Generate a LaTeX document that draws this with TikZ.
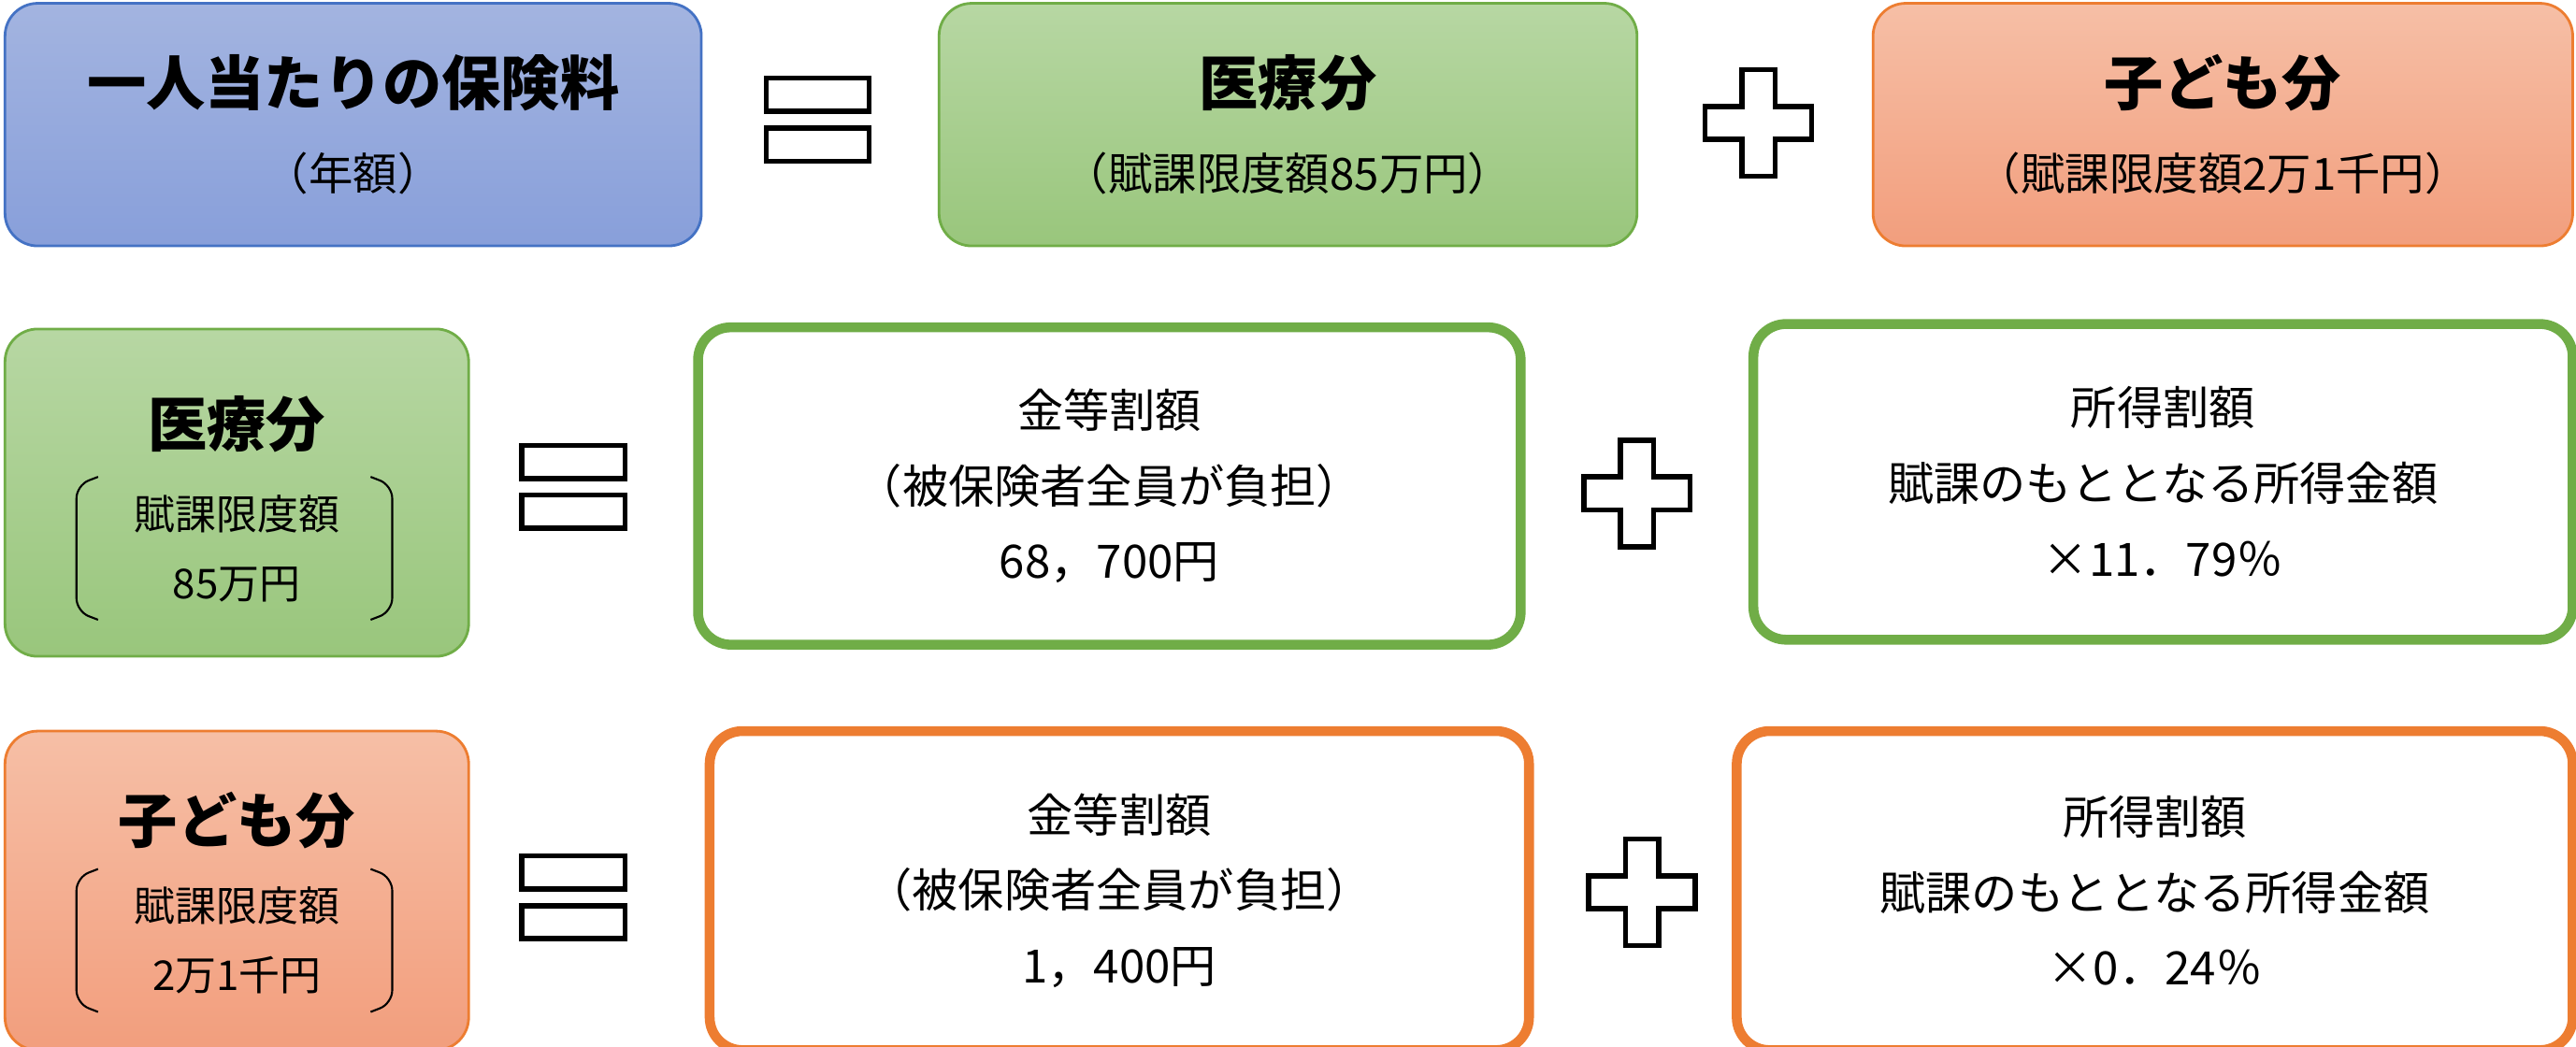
\documentclass[tikz,border=0pt]{standalone}
\usepackage{fontspec}
\setmainfont{Noto Sans CJK JP}
\usetikzlibrary{positioning}

\def\pxu{0.017774cm}
\definecolor{bluefill}{HTML}{A3B4E0}
\definecolor{bluefillb}{HTML}{889FDA}
\definecolor{blueline}{HTML}{4472C4}
\definecolor{greenfill}{HTML}{B7D7A3}
\definecolor{greenfillb}{HTML}{99C67C}
\definecolor{greenline}{HTML}{70AD47}
\definecolor{orangefill}{HTML}{F6BFA6}
\definecolor{orangefillb}{HTML}{F29E7D}
\definecolor{orangeline}{HTML}{ED7D31}

\tikzset{
  box/.style={rounded corners=0.35cm, line width=0.8pt, inner sep=0pt, align=center},
  bluebox/.style={box, draw=blueline, top color=bluefill, bottom color=bluefillb},
  greenbox/.style={box, draw=greenline, top color=greenfill, bottom color=greenfillb},
  orangebox/.style={box, draw=orangeline, top color=orangefill, bottom color=orangefillb},
  greenframe/.style={box, draw=greenline, line width=3pt, fill=white, font=\fontsize{14}{23}\selectfont},
  orangeframe/.style={box, draw=orangeline, line width=3pt, fill=white, font=\fontsize{14}{23}\selectfont},
  topline/.style={font=\fontsize{13.5}{22}\selectfont},
  sign/.style={draw=black, line width=1.6pt},
  bracket/.style={draw=black, line width=0.6pt, rounded corners=4pt}
}
\newcommand{\bigline}[1]{{\fontsize{18}{24}\selectfont\bfseries #1}}
\newcommand{\eqsign}[2]{% centre x, centre y
  \draw[sign] (#1-31,#2-25) rectangle (#1+31,#2-5);
  \draw[sign] (#1-31,#2+5) rectangle (#1+31,#2+25);}
\newcommand{\plussign}[2]{%
  \draw[sign] (#1-10,#2-32) -- (#1+10,#2-32) -- (#1+10,#2-10) -- (#1+32,#2-10)
    -- (#1+32,#2+10) -- (#1+10,#2+10) -- (#1+10,#2+32) -- (#1-10,#2+32)
    -- (#1-10,#2+10) -- (#1-32,#2+10) -- (#1-32,#2-10) -- (#1-10,#2-10) -- cycle;}
\newcommand{\brackets}[2]{%
  \draw[bracket] (#1-82,#2-43) -- (#1-95,#2-38) -- (#1-95,#2+38) -- (#1-82,#2+43);
  \draw[bracket] (#1+82,#2-43) -- (#1+95,#2-38) -- (#1+95,#2+38) -- (#1+82,#2+43);}

\begin{document}
\begin{tikzpicture}[x=\pxu, y=-\pxu]
  \useasboundingbox (0,0) rectangle (1550,630);

  % first row
  \node[bluebox, topline, minimum width=419*\pxu, minimum height=146*\pxu] (total) at (212.5,75)
    {\bigline{一人当たりの保険料}\\[4pt]（年額）};
  \eqsign{492}{72}
  \node[greenbox, topline, minimum width=420*\pxu, minimum height=146*\pxu] (iryo) at (775,75)
    {\bigline{医療分}\\[4pt]（賦課限度額85万円）};
  \plussign{1058}{74}
  \node[orangebox, topline, minimum width=421*\pxu, minimum height=146*\pxu] (kodomo) at (1337.5,75)
    {\bigline{子ども分}\\[4pt]（賦課限度額2万1千円）};

  % second row
  \node[greenbox, minimum width=279*\pxu, minimum height=197*\pxu] (iryoB) at (142.5,296.5) {};
  \node (iryoT) at (142.5,255) {\bigline{医療分}};
  \node[align=center, font=\fontsize{12.5}{21}\selectfont] (iryoL) at (142.5,330) {賦課限度額\\85万円};
  \brackets{141}{330}
  \eqsign{345}{293}
  \node[greenframe, minimum width=495*\pxu, minimum height=191*\pxu] (iryoKin) at (667.5,292.5)
    {金等割額\\（被保険者全員が負担）\\68，700円};
  \plussign{985}{297}
  \node[greenframe, minimum width=493*\pxu, minimum height=190*\pxu] (iryoSho) at (1301.5,290)
    {所得割額\\賦課のもととなる所得金額\\×11．79％};

  % third row
  \node[orangebox, minimum width=279*\pxu, minimum height=192*\pxu] (kodomoB) at (142.5,536) {};
  \node (kodomoT) at (142.5,494) {\bigline{子ども分}};
  \node[align=center, font=\fontsize{12.5}{21}\selectfont] (kodomoL) at (142.5,566) {賦課限度額\\2万1千円};
  \brackets{141}{566}
  \eqsign{345}{540}
  \node[orangeframe, minimum width=493*\pxu, minimum height=192*\pxu] (kodomoKin) at (673.5,536)
    {金等割額\\（被保険者全員が負担）\\1，400円};
  \plussign{988}{537}
  \node[orangeframe, minimum width=503*\pxu, minimum height=192*\pxu] (kodomoSho) at (1296.5,536)
    {所得割額\\賦課のもととなる所得金額\\×0．24％};
\end{tikzpicture}
\end{document}
